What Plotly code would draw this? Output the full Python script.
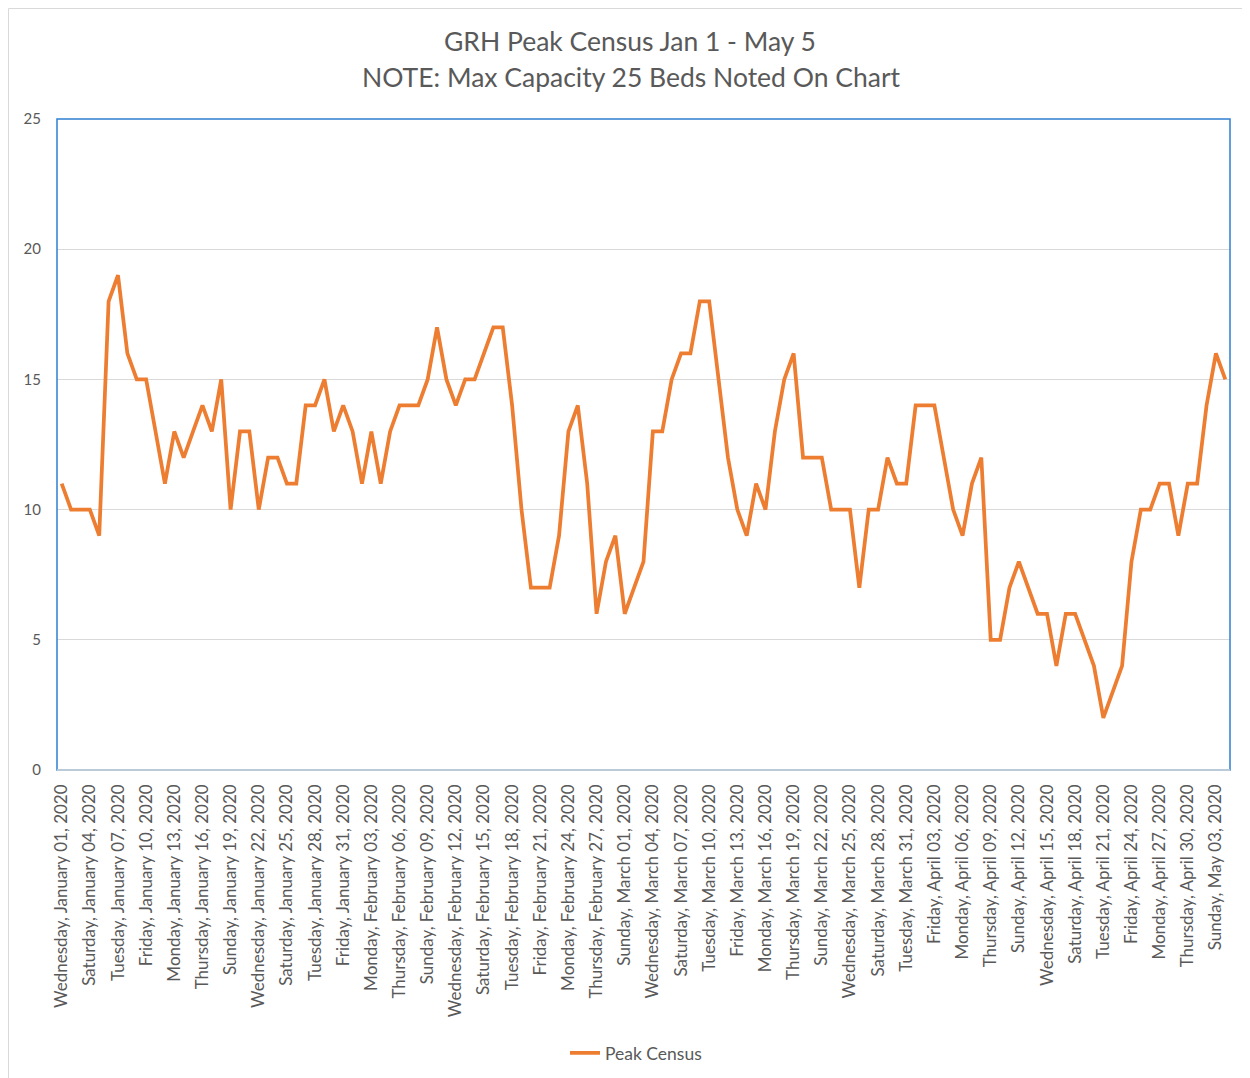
import pandas as pd
import plotly.graph_objects as go

# ---- data ----
start_date = "2020-01-01"
peak_census = [
    11, 10, 10, 10, 9, 18, 19, 16, 15, 15,
    13, 11, 13, 12, 13, 14, 13, 15, 10, 13,
    13, 10, 12, 12, 11, 11, 14, 14, 15, 13,
    14, 13, 11, 13, 11, 13, 14, 14, 14, 15,
    17, 15, 14, 15, 15, 16, 17, 17, 14, 10,
    7, 7, 7, 9, 13, 14, 11, 6, 8, 9,
    6, 7, 8, 13, 13, 15, 16, 16, 18, 18,
    15, 12, 10, 9, 11, 10, 13, 15, 16, 12,
    12, 12, 10, 10, 10, 7, 10, 10, 12, 11,
    11, 14, 14, 14, 12, 10, 9, 11, 12, 5,
    5, 7, 8, 7, 6, 6, 4, 6, 6, 5,
    4, 2, 3, 4, 8, 10, 10, 11, 11, 9,
    11, 11, 14, 16, 15,
]
dates = pd.date_range(start_date, periods=len(peak_census), freq="D")
series_name = "Peak Census"
title_line1 = "GRH Peak Census Jan 1 - May 5"
title_line2 = "NOTE: Max Capacity 25 Beds Noted On Chart"
y_ticks = [0, 5, 10, 15, 20, 25]

FONT = "Lato"
TXT = "#595959"
GRID = "#D9D9D9"
BLUE = "#2E7FD0"
ORANGE = "#ED7D31"

# page body has an 8px margin; work in screen coords and shift
OFF = 8
W, H = 1250 - OFF, 1078 - OFF
L, T = 57 - OFF, 119 - OFF
R = W - (1230 - OFF)
B = H - (770 - OFF)
pw, ph = W - L - R, H - T - B

def sx(px):  # screen x -> paper
    return (px - OFF - L) / pw

def sy(py):  # screen y -> paper
    return (H - B - (py - OFF)) / ph

fig = go.Figure()
fig.add_trace(go.Scatter(
    x=dates, y=peak_census, mode="lines", name=series_name,
    line=dict(color=ORANGE, width=3.75),
))

shapes = [
    dict(type="rect", xref="paper", yref="paper",
         x0=sx(8.5), x1=sx(1270), y0=sy(1100), y1=sy(8.5),
         line=dict(color=GRID, width=1), layer="below"),
    dict(type="rect", xref="paper", yref="paper", x0=0, x1=1, y0=0, y1=1,
         line=dict(color=BLUE, width=1.5), layer="above"),
    dict(type="line", xref="paper", yref="paper", x0=0, x1=1, y0=0, y1=0,
         line=dict(color=GRID, width=1.5), layer="above"),
]

fig.update_layout(
    width=W, height=H,
    margin=dict(l=L, r=R, t=T, b=B),
    paper_bgcolor="white", plot_bgcolor="white",
    font=dict(family=FONT, color=TXT),
    showlegend=True,
    legend=dict(
        orientation="h", xref="container", yref="container",
        x=(636 - OFF) / W, y=1 - (1053 - OFF) / H,
        xanchor="center", yanchor="middle",
        font=dict(size=17.5, color=TXT, family=FONT),
    ),
    shapes=shapes,
    annotations=[
        dict(text=title_line1, xref="paper", yref="paper",
             x=sx(630), y=sy(41), xanchor="center", yanchor="middle",
             showarrow=False, font=dict(size=26.5, color=TXT, family=FONT)),
        dict(text=title_line2, xref="paper", yref="paper",
             x=sx(631), y=sy(77), xanchor="center", yanchor="middle",
             showarrow=False, font=dict(size=26.5, color=TXT, family=FONT)),
    ],
)

fig.update_xaxes(
    type="date",
    range=["2019-12-31 12:00", "2020-05-04 12:00"],
    tick0=start_date, dtick=3 * 86400000,
    tickformat="%A, %B %d, %Y",
    tickangle=-90,
    tickfont=dict(size=17, color=TXT, family=FONT),
    showgrid=False, showline=False, zeroline=False,
    ticks="", ticklabelstandoff=10,
)
fig.update_yaxes(
    range=[0, 25], tickvals=y_ticks,
    tickfont=dict(size=15, color=TXT, family=FONT),
    showgrid=True, gridcolor=GRID, gridwidth=1,
    zeroline=False, showline=False, ticks="",
    ticklabelstandoff=15,
)

fig.write_html("out.html")
